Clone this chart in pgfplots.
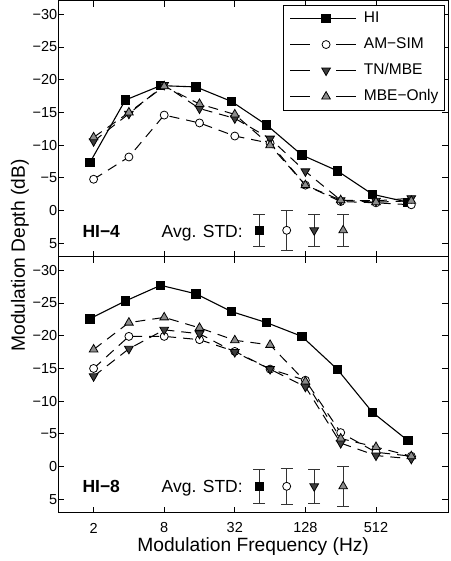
\documentclass[border=0pt]{standalone}
\usepackage{pgfplots}
\pgfplotsset{compat=1.18}
\usepackage{fontspec}
\setmainfont{Liberation Sans}
\definecolor{tngray}{gray}{0.24}
\definecolor{mbegray}{gray}{0.55}
\begin{document}
\begin{tikzpicture}
\pgfplotsset{
  panel/.style={
    scale only axis, width=389.7pt, height=256pt,
    xmin=0, xmax=11.04, ymin=-32.1, ymax=7, y dir=reverse,
    xtick={1,3,5,7,9},
    ytick={-30,-25,-20,-15,-10,-5,0,5},
    yticklabels={−30,−25,−20,−15,−10,−5,0,5},
    tick align=inside, major tick length=6pt,
    axis line style={line width=0.9pt, black},
    tick style={line width=0.9pt, black},
    ticklabel style={font=\fontsize{14.5}{14.5}\selectfont},
    yticklabel style={xshift=2.5pt},
    xticklabel style={anchor=center, yshift=-15.5pt},
    clip=false,
  },
  hi/.style={black, solid, line width=1.1pt, mark=square*, mark size=4.2pt,
    mark options={solid, fill=black, draw=black, line width=0.8pt}},
  am/.style={black, line width=1pt, dash pattern=on 10pt off 7pt, mark=*, mark size=4pt,
    mark options={solid, fill=white, draw=black, line width=0.8pt},
    legend image post style={dash pattern=on 14pt off 32pt}},
  tn/.style={black, line width=1pt, dash pattern=on 10pt off 7pt, mark=triangle*, mark size=5pt,
    mark options={solid, rotate=180, fill=tngray, draw=black, line width=0.8pt},
    legend image post style={dash pattern=on 14pt off 32pt}},
  mbe/.style={black, line width=1pt, dash pattern=on 10pt off 7pt, mark=triangle*, mark size=5pt,
    mark options={solid, fill=mbegray, draw=black, line width=0.8pt},
    legend image post style={dash pattern=on 14pt off 32pt}},
  ebar/.style={only marks, forget plot,
    error bars/.cd, y dir=both, y explicit,
    error bar style={line width=0.8pt, solid, black!80},
    error mark options={rotate=90, line width=0.8pt, mark size=6pt, black!80, solid}},
}
% ---------------- top panel (HI-4)
\begin{axis}[panel, name=top, at={(0pt,0pt)}, anchor=north west,
  xticklabels={},
  legend style={at={(axis description cs:0.992,0.984)}, anchor=north east,
    draw=black, line width=0.9pt, fill=white,
    font=\fontsize{15.5}{15.5}\selectfont,
    inner xsep=6pt, inner ysep=6.5pt,
    nodes={inner sep=0pt, text height=11pt, text depth=3pt},
    row sep=12pt, column sep=7.3pt},
  legend cell align=left,
  legend image code/.code={
    \path (0pt,0pt) -- (66pt,0pt);
    \draw[mark repeat=2, mark phase=2, #1] plot coordinates {(6pt,0pt) (36pt,0pt) (66pt,0pt)};
  },
]
\addplot[hi] coordinates {(0.9,-7.4) (1.9,-16.9) (2.9,-19.1) (3.9,-18.9) (4.9,-16.7) (5.9,-13.1) (6.9,-8.5) (7.9,-6.1) (8.9,-2.5) (9.9,-1.3)};
\addlegendentry{HI}
\addplot[am] coordinates {(1,-4.8) (2,-8.2) (3,-14.6) (4,-13.4) (5,-11.4) (6,-10.3) (7,-3.9) (8,-1.4) (9,-1.2) (10,-0.9)};
\addlegendentry{AM−SIM}
\addplot[tn] coordinates {(1,-10.6) (2,-14.8) (3,-19.2) (4,-15.6) (5,-14.1) (6,-11.0) (7,-6.0) (8,-1.6) (9,-1.5) (10,-1.9)};
\addlegendentry{TN/MBE}
\addplot[mbe] coordinates {(1,-11.2) (2,-15.0) (3,-19.0) (4,-16.3) (5,-14.7) (6,-10.0) (7,-3.9) (8,-1.6) (9,-1.3) (10,-1.5)};
\addlegendentry{MBE−Only}
\addplot[hi, ebar] coordinates {(5.69,3) +- (0,2.5)};
\addplot[am, ebar] coordinates {(6.47,3) +- (0,3.0)};
\addplot[tn, ebar] coordinates {(7.25,3) +- (0,2.5)};
\addplot[mbe, ebar] coordinates {(8.07,3) +- (0,2.5)};
\node[anchor=base west, font=\bfseries\fontsize{17.5}{17.5}\selectfont, inner sep=0pt] at (axis cs:0.68,4.17) {HI−4};
\node[anchor=base east, font=\fontsize{17.5}{17.5}\selectfont, inner sep=0pt] at (axis cs:5.23,4.17) {Avg. STD:};
\end{axis}
% ---------------- bottom panel (HI-8)
\begin{axis}[panel, name=bot, at={(0pt,-256pt)}, anchor=north west,
  xticklabels={2,8,32,128,512},
  xlabel={Modulation Frequency (Hz)},
  xlabel style={font=\fontsize{19.2}{19.2}\selectfont, anchor=center,
    at={(axis description cs:0.5,0)}, yshift=-34.4pt},
]
\addplot[hi] coordinates {(0.9,-22.6) (1.9,-25.3) (2.9,-27.7) (3.9,-26.4) (4.9,-23.7) (5.9,-22.0) (6.9,-19.9) (7.9,-14.9) (8.9,-8.3) (9.9,-4.0)};
\addplot[am] coordinates {(1,-15.0) (2,-19.9) (3,-19.9) (4,-19.4) (5,-17.6) (6,-14.9) (7,-13.2) (8,-5.2) (9,-2.2) (10,-1.6)};
\addplot[tn] coordinates {(1,-13.8) (2,-18.0) (3,-20.9) (4,-20.3) (5,-17.5) (6,-14.9) (7,-12.2) (8,-3.6) (9,-1.7) (10,-1.2)};
\addplot[mbe] coordinates {(1,-17.9) (2,-22.0) (3,-22.8) (4,-21.2) (5,-19.3) (6,-18.6) (7,-13.0) (8,-4.3) (9,-3.0) (10,-1.6)};
\addplot[hi, ebar] coordinates {(5.69,3) +- (0,2.65)};
\addplot[am, ebar] coordinates {(6.47,3) +- (0,2.75)};
\addplot[tn, ebar] coordinates {(7.25,3) +- (0,2.65)};
\addplot[mbe, ebar] coordinates {(8.07,3) +- (0,3.0)};
\node[anchor=base west, font=\bfseries\fontsize{17.5}{17.5}\selectfont, inner sep=0pt] at (axis cs:0.68,3.98) {HI−8};
\node[anchor=base east, font=\fontsize{17.5}{17.5}\selectfont, inner sep=0pt] at (axis cs:5.23,3.98) {Avg. STD:};
\end{axis}
\node[rotate=90, anchor=center, font=\fontsize{19.2}{19.2}\selectfont] at (-38.3pt,-255pt) {Modulation Depth (dB)};
\pgfresetboundingbox
\path (-58.3pt,0.5pt) rectangle (391.7pt,-560.5pt);
\end{tikzpicture}
\end{document}
